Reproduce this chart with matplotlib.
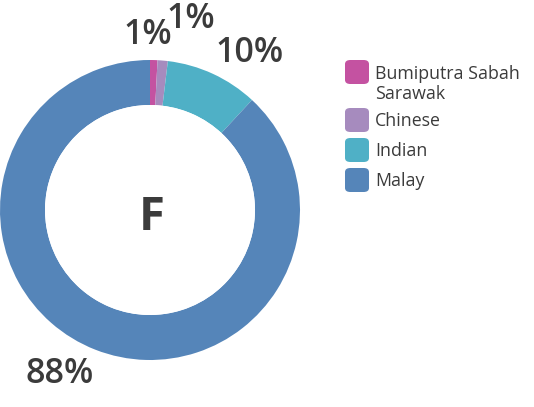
import matplotlib.pyplot as plt
from matplotlib.patches import Circle, FancyBboxPatch

# data
groups = ["Bumiputra Sabah\nSarawak", "Chinese", "Indian", "Malay"]
shares = [0.8, 1.1, 10.0, 88.1]
pct_labels = ["1%", "1%", "10%", "88%"]
colors = ["#c452a1", "#a68bbe", "#4fb0c6", "#5585b9"]
center_letter = "F"

txt_color = "#3b3b3b"
plt.rcParams['font.family'] = ['Open Sans', 'DejaVu Sans']

W, H = 534, 407
fig = plt.figure(figsize=(W / 100, H / 100), dpi=100)

# donut axes: centre (150, 210) px, radius 150 px
ax = fig.add_axes([0 / W, (H - 360) / H, 300 / W, 300 / H])
wedges, _ = ax.pie(shares, colors=colors, startangle=90, counterclock=False,
                   radius=1, wedgeprops=dict(width=0.3, linewidth=0))
ax.add_patch(Circle((0, 0), 0.7, facecolor="white", edgecolor="none", zorder=3))
ax.text(0.01, -0.01, center_letter, ha="center", va="center_baseline", fontsize=34,
        fontweight="bold", color=txt_color, zorder=4)
ax.set_xlim(-1, 1)
ax.set_ylim(-1, 1)
ax.set_aspect("equal")
ax.axis("off")

# percentage labels (placed by hand like the original, px positions)
label_px = [(148, 35), (191, 19), (250, 53), (60, 374)]
for lab, (px, py) in zip(pct_labels, label_px):
    ax.text((px - 150) / 150, (210 - py) / 150, lab, ha="center", va="center",
            fontsize=24.5, fontweight="semibold", color=txt_color, clip_on=False)

# legend with rounded squares
rows_y = [72, 120, 150, 180]
text_y = [84, 121, 151, 181]
for name, col, y, ty in zip(groups, colors, rows_y, text_y):
    fig.patches.append(FancyBboxPatch(
        (345 / W, (H - y - 12) / H), 24 / W, 24 / H,
        boxstyle="round,pad=0,rounding_size=0.01",
        transform=fig.transFigure, facecolor=col, edgecolor="none"))
    fig.text(375 / W, (H - ty) / H, name, ha="left", va="center",
             fontsize=12.8, color=txt_color, linespacing=1.2)

fig.savefig("out.png", dpi=100, transparent=True)
